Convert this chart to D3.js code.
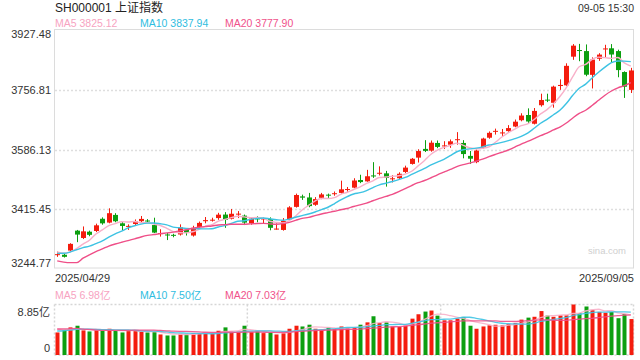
<!DOCTYPE html>
<html><head><meta charset="utf-8">
<script src="https://cdn.jsdelivr.net/npm/d3@7/dist/d3.min.js"></script>
<style>
body{margin:0;background:#fff;}
svg{display:block;font-family:"Liberation Sans",Arial,"Noto Sans CJK SC",sans-serif;}
</style>
</head><body>
<svg id="c" width="640" height="360"></svg>
<script>
const dates = ["04-29","04-30","05-06","05-07","05-08","05-09","05-12","05-13","05-14","05-15",
"05-16","05-19","05-20","05-21","05-22","05-23","05-26","05-27","05-28","05-29",
"05-30","06-03","06-04","06-05","06-06","06-09","06-10","06-11","06-12","06-13",
"06-16","06-17","06-18","06-19","06-20","06-23","06-24","06-25","06-26","06-27",
"06-30","07-01","07-02","07-03","07-04","07-07","07-08","07-09","07-10","07-11",
"07-14","07-15","07-16","07-17","07-18","07-21","07-22","07-23","07-24","07-25",
"07-28","07-29","07-30","07-31","08-01","08-04","08-05","08-06","08-07","08-08",
"08-11","08-12","08-13","08-14","08-15","08-18","08-19","08-20","08-21","08-22",
"08-25","08-26","08-27","08-28","08-29","09-01","09-02","09-03","09-04","09-05"];
const open = [3285,3285,3297,3354,3333,3351,3353,3388,3377,3399,
3375,3365,3373,3381,3383,3370,3345,3343,3342,3343,
3356,3340,3364,3381,3383,3390,3400,3388,3400,3397,
3375,3389,3387,3387,3358,3356,3385,3422,3452,3449,
3428,3448,3457,3459,3462,3471,3477,3499,3495,3512,
3518,3518,3502,3504,3522,3545,3563,3588,3583,3605,
3596,3600,3613,3605,3568,3550,3591,3620,3637,3633,
3639,3652,3670,3685,3660,3713,3729,3720,3768,3770,
3852,3871,3868,3800,3846,3873,3876,3868,3808,3757];
const high = [3294,3288,3318,3356,3366,3354,3374,3392,3418,3404,
3379,3372,3386,3396,3387,3391,3358,3348,3345,3372,
3360,3368,3380,3393,3391,3405,3407,3416,3410,3400,
3393,3395,3391,3392,3375,3390,3424,3460,3457,3462,
3450,3462,3460,3466,3497,3479,3504,3514,3528,3550,
3538,3525,3513,3521,3540,3562,3587,3613,3612,3612,
3610,3615,3636,3613,3582,3586,3620,3638,3646,3645,
3656,3672,3690,3704,3705,3746,3746,3769,3787,3833,
3888,3888.6,3887,3850,3862,3886,3888,3872,3810,3820];
const low = [3279,3277,3294,3321,3330,3338,3350,3371,3375,3378,
3355,3356,3370,3378,3376,3347,3337,3327,3335,3340,
3340,3337,3362,3375,3380,3385,3362,3386,3390,3370,
3371,3378,3374,3355,3357,3354,3382,3420,3442,3421,
3425,3444,3447,3454,3460,3465,3475,3490,3494,3505,
3512,3480,3492,3502,3519,3543,3549,3579,3580,3590,
3588,3591,3600,3561,3545,3547,3589,3617,3629,3625,
3636,3650,3667,3661,3658,3709,3722,3706,3757,3768,
3843,3839,3796,3761,3840,3850,3836,3793,3734,3748];
const close = [3286.65,3279.03,3316.11,3342.67,3352.00,3341.97,3369.24,3374.87,3403.95,3380.82,
3367.46,3367.58,3380.48,3387.57,3380.19,3348.37,3346.84,3340.69,3339.93,3363.45,
3347.49,3361.98,3376.20,3384.10,3385.36,3399.77,3384.82,3402.32,3402.66,3377.00,
3388.73,3387.40,3388.81,3362.11,3359.90,3381.58,3420.57,3455.97,3448.45,3424.23,
3444.43,3457.75,3454.79,3461.15,3472.32,3473.13,3497.48,3493.05,3509.68,3510.18,
3519.65,3505.00,3503.78,3516.83,3534.48,3559.79,3581.86,3582.30,3605.73,3593.66,
3597.94,3609.71,3615.72,3573.21,3559.95,3583.31,3617.60,3633.99,3639.67,3635.13,
3647.55,3665.92,3683.46,3666.44,3696.77,3728.03,3727.29,3766.21,3771.10,3825.76,
3883.56,3868.38,3800.35,3843.60,3857.93,3875.53,3858.13,3813.56,3765.88,3812.51];
const volume = [3.95,4.43,4.84,5.13,4.31,4.13,4.31,4.25,4.6,4.25,
3.95,4.25,4.25,4.13,3.95,4.01,3.6,3.42,3.42,3.72,
3.72,3.84,3.84,3.84,3.84,4.25,4.84,4.07,4.07,5.13,
4.01,4.13,3.84,3.95,3.6,3.84,4.6,5.13,5.0,5.31,
4.6,4.43,4.84,4.54,5.0,4.72,4.9,5.31,5.72,6.79,
5.6,5.72,5.0,4.9,5.13,6.37,7.14,7.61,7.79,6.9,
6.08,6.08,6.37,6.67,5.13,4.6,5.0,5.2,5.3,5.2,
5.4,5.6,6.2,6.55,6.7,7.7,6.9,6.7,6.95,6.95,
8.85,7.3,8.5,7.91,7.55,7.4,7.55,6.45,7.19,6.3];
// closes / volumes of the 19 sessions before 04-29 (for the moving averages)
const prevCloses = [3348.44,3350.13,3342.01,3096.58,3145.55,3186.81,3223.64,3238.23,3262.81,3267.66,
3276.00,3280.34,3276.73,3291.43,3299.76,3296.36,3297.29,3295.06,3288.41];
const prevVolumes = [4.3,4.0,4.1,6.9,5.6,5.9,5.2,4.5,4.6,4.0,4.0,3.8,3.7,4.0,4.0,4.9,4.6,4.7,4.4];
const priceTicks = [3927.48,3756.81,3586.13,3415.45,3244.77];
const volMax = 8.85;
const maPeriods = [5,10,20];
const maColors = ["#f8b0c9","#3ec3e3","#ef4f88"];
const maTextColors = ["#f7a3c1","#2fbde0","#f0528a"];

const svg = d3.select("#c");
const L = 54, R = 634, T = 30, B = 268;
const VT = 304.5, VB = 355;
const UP = "#f41c0e", DOWN = "#0c9f10";

const x = d3.scaleBand().domain(d3.range(dates.length)).range([L, R]).paddingInner(0.36).paddingOuter(0.18);
const cx = i => x(i) + x.bandwidth()/2;
const y = d3.scaleLinear().domain([3244.77, 3927.48]).range([268.8, 30.3]);
const yv = d3.scaleLinear().domain([0, volMax]).range([VB, VT]);

function movAvg(prev, arr, n) {
  const all = prev.concat(arr), off = prev.length;
  return arr.map((_, i) => d3.mean(all.slice(off + i - n + 1, off + i + 1)));
}
const priceMA = maPeriods.map(n => movAvg(prevCloses, close, n));
const volMA = maPeriods.map(n => movAvg(prevVolumes, volume, n));

// title
svg.append("text").attr("x", 55).attr("y", 12).attr("font-size", 12).attr("fill", "#222").text("SH000001 上证指数");
svg.append("text").attr("x", 634).attr("y", 12).attr("text-anchor", "end").attr("font-size", 10.5).attr("fill", "#333").text("09-05 15:30");

// legend price
const legX = [55, 140, 225];
maPeriods.forEach((n, k) => {
  svg.append("text").attr("x", legX[k]).attr("y", 27).attr("font-size", 10.5).attr("fill", maTextColors[k])
    .text("MA" + n + " " + priceMA[k][close.length - 1].toFixed(2));
});

// main frame + grid
svg.append("rect").attr("x", L + 0.5).attr("y", T - 0.5).attr("width", R - L - 1).attr("height", B - T + 0.5)
  .attr("fill", "none").attr("stroke", "#dcdcdc");
svg.selectAll(".grid").data(priceTicks.slice(1, 4)).enter().append("line")
  .attr("x1", L + 1).attr("x2", R - 1).attr("y1", d => Math.round(y(d)) + 0.5).attr("y2", d => Math.round(y(d)) + 0.5)
  .attr("stroke", "#dedede").attr("stroke-width", 1.5).attr("stroke-dasharray", "2,2");
svg.selectAll(".ylab").data(priceTicks).enter().append("text")
  .attr("x", 51).attr("y", (d, i) => i === 0 ? 37.5 : (i === priceTicks.length - 1 ? 266.5 : y(d) + 4))
  .attr("text-anchor", "end").attr("font-size", 11).attr("fill", "#333").text(d => d.toFixed(2));

// watermark
svg.append("text").attr("x", 626).attr("y", 254).attr("text-anchor", "end").attr("font-size", 9.5).attr("fill", "#cfcfcf").text("sina.com");

// candles
const g = svg.append("g");
const col = i => close[i] >= open[i] ? UP : DOWN;
g.selectAll(".wick").data(d3.range(dates.length)).enter().append("line")
  .attr("x1", i => Math.round(cx(i)) + 0.5).attr("x2", i => Math.round(cx(i)) + 0.5)
  .attr("y1", i => y(high[i])).attr("y2", i => y(low[i]))
  .attr("stroke", col).attr("stroke-width", 1);
g.selectAll(".body").data(d3.range(dates.length)).enter().append("rect")
  .attr("x", i => Math.round(cx(i)) + 0.5 - 2.5).attr("width", 5)
  .attr("y", i => y(Math.max(open[i], close[i])))
  .attr("height", i => Math.max(1, Math.abs(y(open[i]) - y(close[i]))))
  .attr("fill", col);

// MA lines
maPeriods.forEach((n, k) => {
  svg.append("path").datum(priceMA[k]).attr("fill", "none").attr("stroke", maColors[k]).attr("stroke-width", 1.4)
    .attr("d", d3.line().x((d, i) => cx(i)).y(d => y(d)).curve(d3.curveMonotoneX));
});

// dates
svg.append("text").attr("x", 55).attr("y", 281.5).attr("font-size", 11).attr("fill", "#333").text("2025/" + dates[0].replace("-", "/"));
svg.append("text").attr("x", 634).attr("y", 281.5).attr("text-anchor", "end").attr("font-size", 11).attr("fill", "#333").text("2025/" + dates[dates.length - 1].replace("-", "/"));

// volume legend
maPeriods.forEach((n, k) => {
  svg.append("text").attr("x", legX[k]).attr("y", 299).attr("font-size", 10.5).attr("fill", maTextColors[k])
    .text("MA" + n + " " + volMA[k][volume.length - 1].toFixed(2) + "亿");
});

// volume frame
const dot = {stroke: "#d6d6d6", w: 1.5, dash: "2,2"};
[[L + 0.5, VT, R - 0.5, VT], [L + 0.5, VB, R - 0.5, VB], [L + 0.5, VT, L + 0.5, VB], [R - 0.5, VT, R - 0.5, VB],
 [L + (R - L) / 3, VT, L + (R - L) / 3, VB], [L + 2 * (R - L) / 3, VT, L + 2 * (R - L) / 3, VB]].forEach(p => {
  svg.append("line").attr("x1", p[0]).attr("y1", p[1]).attr("x2", p[2]).attr("y2", p[3])
    .attr("stroke", dot.stroke).attr("stroke-width", dot.w).attr("stroke-dasharray", dot.dash);
});
svg.append("text").attr("x", 50).attr("y", 315.5).attr("text-anchor", "end").attr("font-size", 11).attr("fill", "#333").text(volMax.toFixed(2) + "亿");
svg.append("text").attr("x", 50).attr("y", 351.5).attr("text-anchor", "end").attr("font-size", 11).attr("fill", "#333").text("0");

svg.append("g").selectAll("rect").data(d3.range(volume.length)).enter().append("rect")
  .attr("x", i => Math.round(cx(i)) + 0.5 - 2).attr("width", 4)
  .attr("y", i => yv(volume[i])).attr("height", i => VB - yv(volume[i]))
  .attr("fill", col);

maPeriods.forEach((n, k) => {
  svg.append("path").datum(volMA[k]).attr("fill", "none").attr("stroke", maColors[k]).attr("stroke-width", 1.3)
    .attr("opacity", 0.9)
    .attr("d", d3.line().x((d, i) => cx(i)).y(d => yv(d)).curve(d3.curveMonotoneX));
});
</script>
</body></html>
